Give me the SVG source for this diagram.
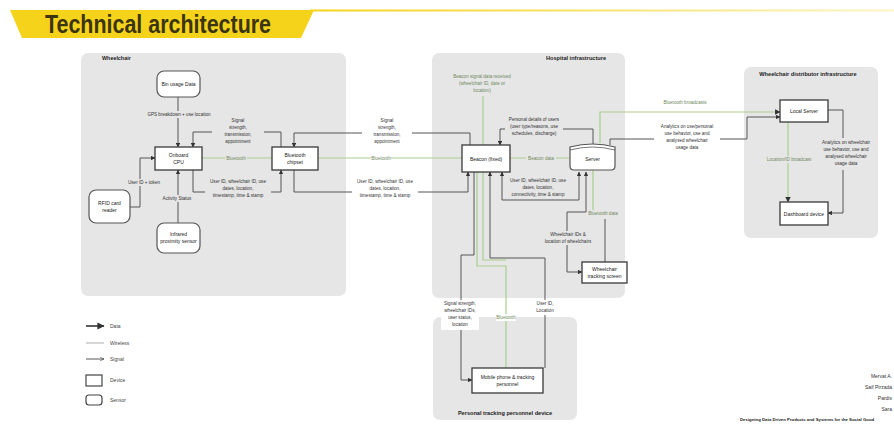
<svg xmlns="http://www.w3.org/2000/svg" width="894" height="427" viewBox="0 0 894 427">
<defs>
<marker id="ah" viewBox="0 0 6 6" refX="5.5" refY="3" markerWidth="4.5" markerHeight="4.5" orient="auto-start-reverse"><path d="M0,0 L6,3 L0,6 Z" fill="#333"/></marker>
<marker id="ao" viewBox="0 0 6 6" refX="5.5" refY="3" markerWidth="5" markerHeight="5" orient="auto"><path d="M0,0.5 L5.5,3 L0,5.5" fill="none" stroke="#444" stroke-width="0.8"/></marker>
<linearGradient id="yl" x1="0" x2="1" y1="0" y2="0"><stop offset="0" stop-color="#f5d31a"/><stop offset="1" stop-color="#f5d31a" stop-opacity="0.25"/></linearGradient>
</defs>
<style>
text{font-family:"Liberation Sans",Arial,sans-serif;fill:#333}
.t{font-size:4.6px;text-anchor:middle}
.n{font-size:5px;text-anchor:middle;fill:#222}
.h{font-size:5.6px;font-weight:bold;text-anchor:middle;fill:#222}
.g{font-size:4.6px;text-anchor:middle;fill:#6f8a60}
.panel{fill:#e6e6e6}
.box{fill:#fff;stroke:#3a3a3a;stroke-width:1.3}
.snr{fill:#fff;stroke:#555;stroke-width:1.2}
.ln{fill:none;stroke:#555;stroke-width:1}
.gr{fill:none;stroke:#a8d08d;stroke-width:1.2}
.bg{fill:#e6e6e6}
.lg{font-size:5px;fill:#444}
.cr{font-size:5px;text-anchor:end}
</style>
<rect width="894" height="427" fill="#fff"/>
<!-- title banner -->
<g id="title">
<polygon points="10,10 314,10 301,38 22,38" fill="#f5d31a"/>
<rect x="310" y="9.5" width="584" height="2" fill="url(#yl)"/>
<text x="45" y="33" font-family="Roboto, 'Liberation Sans', sans-serif" font-size="25" font-weight="bold" textLength="226" lengthAdjust="spacingAndGlyphs" style="fill:#3b3512">Technical architecture</text>
</g>
<!-- panels -->
<g id="panels">
<rect class="panel" x="81" y="53" width="265" height="243" rx="7"/>
<text x="102" y="60" font-size="5.4" font-weight="bold" style="fill:#222">Wheelchair</text>
<rect class="panel" x="432" y="53" width="193" height="245" rx="7"/>
<text class="h" x="576" y="60">Hospital infrastructure</text>
<rect class="panel" x="744" y="67" width="134" height="171" rx="7"/>
<text class="h" x="808" y="76">Wheelchair distributor infrastructure</text>
<rect class="panel" x="433" y="317" width="144" height="103" rx="7"/>
<text class="h" x="505" y="415">Personal tracking personnel device</text>
</g>
<!-- connectors -->
<g id="connectors">
<!-- wheelchair -->
<path class="ln" d="M178,97 V147" marker-end="url(#ah)"/>
<path class="ln" d="M178,223 V170" marker-end="url(#ah)"/>
<path class="ln" d="M130,207 H140 V158 H155" marker-end="url(#ah)"/>
<path class="ln" d="M281,147 V132 H193 V147" marker-end="url(#ah)"/>
<path class="ln" d="M193,170 V192 H281 V170" marker-end="url(#ah)"/>
<path class="gr" d="M202,158 H272"/>
<!-- wheelchair to hospital -->
<path class="ln" d="M470,145 V133 H294 V147" marker-end="url(#ah)"/>
<path class="ln" d="M294,170 V192 H468 V172" marker-end="url(#ah)"/>
<path class="gr" d="M318,158 H462"/>
<!-- hospital -->
<path class="gr" d="M483,96 V145"/>
<path class="gr" d="M510,158 H570"/>
<path class="ln" d="M593,145 V129 H500 V145" marker-end="url(#ah)"/>
<path class="ln" d="M502,172 V200 H579 V172" marker-start="url(#ah)" marker-end="url(#ah)"/>
<path class="ln" d="M586,172 V212 H567 V272 H582" marker-start="url(#ah)" marker-end="url(#ah)"/>
<path class="gr" d="M593,170 V213"/>
<path class="ln" d="M605,219 V262"/>
<!-- to personal -->
<path class="ln" d="M474,172 V255 H461 V380 H472" marker-end="url(#ah)"/>
<path class="gr" d="M477,172 V266 H506 V368"/>
<path class="gr" d="M483,172 V260 H506"/>
<path class="ln" d="M490,258 H545 V368"/>
<path class="ln" d="M490,258 V172" marker-end="url(#ah)"/>
<!-- to distributor -->
<path class="gr" d="M600,143 V112 H780" marker-end="url(#ah)"/>
<path class="ln" d="M610,145 V139 H747 V117 H780" marker-end="url(#ah)"/>
<path class="gr" d="M788,122 V202" marker-end="url(#ah)"/>
<path class="ln" d="M828,110 H843 V213 H828" marker-end="url(#ah)"/>
</g>
<!-- connector labels -->
<g id="labels">
<rect class="bg" x="143" y="111" width="72" height="7"/>
<text class="t" x="179" y="116">GPS breakdown + use location</text>
<rect class="bg" x="212" y="116" width="52" height="32"/>
<text class="t" x="238" y="122">Signal</text>
<text class="t" x="238" y="129">strength,</text>
<text class="t" x="238" y="136">transmission,</text>
<text class="t" x="238" y="143">appointment</text>
<rect class="bg" x="225" y="154" width="22" height="7"/>
<text class="g" x="236" y="159.5">Bluetooth</text>
<rect class="bg" x="126" y="179" width="36" height="7"/>
<text class="t" x="144" y="184">User ID + token</text>
<rect class="bg" x="205" y="177" width="66" height="24"/>
<text class="t" x="238" y="183">User ID, wheelchair ID, use</text>
<text class="t" x="238" y="190">dates, location,</text>
<text class="t" x="238" y="197">timestamp, time &amp; stamp</text>
<rect class="bg" x="160" y="195" width="34" height="7"/>
<text class="t" x="177" y="200">Activity Status</text>
<rect x="362" y="116" width="50" height="32" fill="#fff"/>
<text class="t" x="387" y="122">Signal</text>
<text class="t" x="387" y="129">strength,</text>
<text class="t" x="387" y="136">transmission,</text>
<text class="t" x="387" y="143">appointment</text>
<rect x="371" y="154" width="20" height="7" fill="#fff"/>
<text class="g" x="381" y="159.5">Bluetooth</text>
<rect x="352" y="177" width="66" height="24" fill="#fff"/>
<text class="t" x="385" y="183">User ID, wheelchair ID, use</text>
<text class="t" x="385" y="190">dates, location,</text>
<text class="t" x="385" y="197">timestamp, time &amp; stamp</text>
<rect class="bg" x="451" y="73" width="62" height="22"/>
<text class="g" x="482" y="78">Beacon signal data received</text>
<text class="g" x="482" y="85">(wheelchair ID, date or</text>
<text class="g" x="482" y="92">location)</text>
<rect class="bg" x="505" y="115" width="58" height="24"/>
<text class="t" x="534" y="121">Personal details of users</text>
<text class="t" x="534" y="128">(user type/reasons, use</text>
<text class="t" x="534" y="135">schedules, discharge)</text>
<rect class="bg" x="526" y="154" width="30" height="7"/>
<text class="g" x="541" y="159.5">Beacon data</text>
<rect class="bg" x="506" y="176" width="68" height="23"/>
<text class="t" x="538" y="182">User ID, wheelchair ID, use</text>
<text class="t" x="538" y="189">dates, location,</text>
<text class="t" x="538" y="196">connectivity, time &amp; stamp</text>
<rect class="bg" x="590" y="210" width="27" height="7"/>
<text class="g" x="603" y="215">Bluetooth data</text>
<rect class="bg" x="549" y="231" width="40" height="14"/>
<text class="t" x="568" y="236">Wheelchair IDs &amp;</text>
<text class="t" x="568" y="243">location of wheelchairs</text>
<rect x="441" y="300" width="38" height="30" fill="#fff"/>
<text class="t" x="460" y="305">Signal strength,</text>
<text class="t" x="460" y="312">wheelchair IDs,</text>
<text class="t" x="460" y="319">user status,</text>
<text class="t" x="460" y="326">location</text>
<rect x="496" y="314" width="20" height="7" fill="#fff"/>
<text class="g" x="506" y="319">Bluetooth</text>
<rect x="535" y="300" width="20" height="15" fill="#fff"/>
<text class="t" x="545" y="305">User ID,</text>
<text class="t" x="545" y="312">Location</text>
<text class="g" x="685" y="104">Bluetooth broadcasts</text>
<rect x="654" y="122" width="66" height="33" fill="#fff"/>
<text class="t" x="687" y="128">Analytics on use/personal</text>
<text class="t" x="687" y="135">use behavior, use and</text>
<text class="t" x="687" y="142">analysed wheelchair</text>
<text class="t" x="687" y="149">usage data</text>
<rect class="bg" x="768" y="156" width="42" height="7"/>
<text class="g" x="789" y="161">Location/ID broadcast</text>
<rect class="bg" x="822" y="138" width="48" height="32"/>
<text class="t" x="846" y="144">Analytics on wheelchair</text>
<text class="t" x="846" y="151">use behavior, use and</text>
<text class="t" x="846" y="158">analysed wheelchair</text>
<text class="t" x="846" y="165">usage data</text>
</g>
<!-- nodes -->
<g id="n-bin"><rect class="snr" x="157" y="71" width="43" height="26" rx="7"/><text class="n" x="178.5" y="86">Bin usage Data</text></g>
<g id="n-cpu"><rect class="box" x="155" y="147" width="47" height="23"/><text class="n" x="178.5" y="157">Onboard</text><text class="n" x="178.5" y="164">CPU</text></g>
<g id="n-bt"><rect class="box" x="272" y="147" width="46" height="23"/><text class="n" x="295" y="157">Bluetooth</text><text class="n" x="295" y="164">chipset</text></g>
<g id="n-rfid"><rect class="snr" x="89" y="190" width="41" height="33" rx="7"/><text class="n" x="109.5" y="205">RFID card</text><text class="n" x="109.5" y="212">reader</text></g>
<g id="n-ir"><rect class="snr" x="157" y="223" width="43" height="30" rx="7"/><text class="n" x="178.5" y="236">Infrared</text><text class="n" x="178.5" y="243">proximity sensor</text></g>
<g id="n-beacon"><rect class="box" x="462" y="145" width="48" height="27"/><text class="n" x="486" y="160.5">Beacon (fixed)</text></g>
<g id="n-server"><path class="snr" d="M570,147 Q592.5,141 615,147 V166 Q615,170 611,170 H574 Q570,170 570,166 Z"/><path d="M570,150 Q592.5,144 615,150" fill="none" stroke="#555" stroke-width="0.8"/><text class="n" x="592.5" y="161">Server</text></g>
<g id="n-track"><rect class="box" x="582" y="262" width="45" height="21" stroke-width="2"/><text class="n" x="604.5" y="271">Wheelchair</text><text class="n" x="604.5" y="278">tracking screen</text></g>
<g id="n-local"><rect class="box" x="780" y="100" width="48" height="22"/><text class="n" x="804" y="113">Local Server</text></g>
<g id="n-dash"><rect class="box" x="780" y="202" width="48" height="23"/><text class="n" x="804" y="215.5">Dashboard device</text></g>
<g id="n-mobile"><rect class="box" x="472" y="368" width="71" height="25"/><text class="n" x="507.5" y="378.5">Mobile phone &amp; tracking</text><text class="n" x="507.5" y="386">personnel</text></g>
<!-- legend -->
<g id="legend">
<path d="M86,326 H104" stroke="#333" stroke-width="1.6" marker-end="url(#ah)"/>
<text class="lg" x="110" y="328">Data</text>
<path d="M86,343 H104" stroke="#bbb" stroke-width="1.2"/>
<text class="lg" x="110" y="345">Wireless</text>
<path d="M86,359 H104" stroke="#444" stroke-width="0.9" marker-end="url(#ao)"/>
<text class="lg" x="110" y="361">Signal</text>
<rect x="86" y="375" width="16" height="11" fill="#fff" stroke="#444" stroke-width="1.2"/>
<text class="lg" x="110" y="382">Device</text>
<rect x="86" y="395" width="16" height="10" rx="3" fill="#fff" stroke="#444" stroke-width="1.2"/>
<text class="lg" x="110" y="402">Sensor</text>
</g>
<!-- credits -->
<g id="credits">
<text class="cr" x="892" y="378">Mervat A.</text>
<text class="cr" x="892" y="389">Saif Pirzada</text>
<text class="cr" x="892" y="400">Pardis</text>
<text class="cr" x="892" y="411">Sara</text>
<text x="740" y="421" font-size="4.3" font-weight="bold" style="fill:#222">Designing Data Driven Products and Systems for the Social Good</text>
</g>
</svg>
